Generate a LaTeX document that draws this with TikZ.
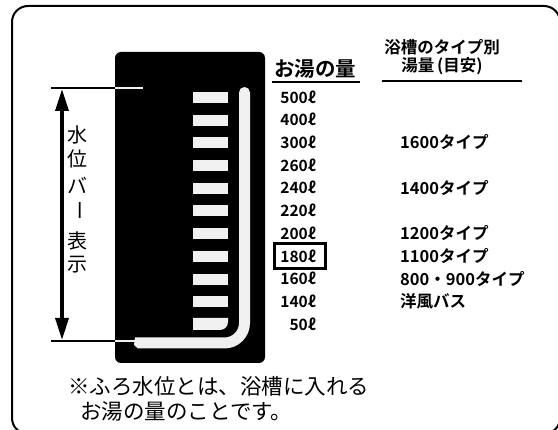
\documentclass[tikz,border=0pt]{standalone}
\usepackage{fontspec}
\newfontfamily\jp{Noto Sans CJK JP}[BoldFont={Noto Sans CJK JP Bold}]
\usetikzlibrary{arrows.meta}
\definecolor{barc}{HTML}{F0F0F0}
\tikzset{
  vol/.style={anchor=east,inner sep=0pt,font=\jp\bfseries\fontsize{15.5}{15.5}\selectfont},
  typ/.style={anchor=west,inner sep=0pt,font=\jp\bfseries\fontsize{16.5}{16.5}\selectfont},
  vchar/.style={inner sep=0pt,font=\jp\fontsize{20}{20}\selectfont},
  note/.style={anchor=west,inner sep=0pt,font=\jp\fontsize{21.5}{21.5}\selectfont},
  hdr/.style={inner sep=0pt,font=\jp\bfseries\fontsize{16.5}{16.5}\selectfont},
}
\begin{document}
\begin{tikzpicture}[x=1pt,y=-1pt]
\useasboundingbox (0,0) rectangle (558,430);
% frame
\draw[line width=2pt,rounded corners=16pt] (12,6) rectangle (560,434);
% black panel
\fill[black,rounded corners=6pt] (115,52) rectangle (265,363);
% bars
\foreach \i in {0,...,9} \fill[barc] (193,{92+22.7*\i}) rectangle (228,{103+22.7*\i});
\fill[barc] (193,318) -- (228,318) -- (228,322) .. controls (228,326.4) and (224.4,330) .. (220,330) -- (193,330) -- cycle;
% L bar
\fill[barc] (250,92.5) -- (250,323) .. controls (250,337.1) and (238.6,348.5) .. (224.5,348.5)
  -- (138,348.5) -- (134,345) -- (135,337.5) -- (224.5,337.5)
  .. controls (232.5,337.5) and (239,331) .. (239,323) -- (239,92.5) -- cycle;
\fill[barc] (244.5,92.5) circle (5.5);
% level lines
\coordinate (tL) at (51,88); \coordinate (tM) at (115,88); \coordinate (tR) at (143,88);
\coordinate (bL) at (51,341); \coordinate (bM) at (115,341); \coordinate (bR) at (136,341);
\draw[line width=2pt] (tL) -- (tM);
\draw[line width=2pt,barc] (tM) -- (tR);
\draw[line width=2pt] (bL) -- (bM);
\draw[line width=2pt,barc] (bM) -- (bR);
% arrow
\coordinate (aT) at (62,89); \coordinate (aB) at (62,340);
\draw[line width=3.5pt,{Triangle[length=22pt,width=13pt]}-{Triangle[length=22pt,width=13pt]}] (aT) -- (aB);
% vertical label
\node[vchar] (v1) at (77,135) {水};
\node[vchar] (v2) at (77,159) {位};
\node[vchar] (v3) at (77,185) {バ};
\node[vchar,rotate=-90] (v4) at (77,211) {ー};
\node[vchar] (v5) at (77,241) {表};
\node[vchar] (v6) at (77,265) {示};
% headers
\node[inner sep=0pt,font=\jp\bfseries\fontsize{20.5}{20.5}\selectfont] (h1) at (315,69) {お湯の量};
\draw[line width=2pt] (272,82) -- (360,82);
\node[hdr] (h2) at (442,47.5) {浴槽のタイプ別};
\node[hdr] (h3) at (442,66) {湯量\,(目安)};
\draw[line width=2.5pt] (382,81) -- (522,81);
% volumes
\foreach \v [count=\i from 0] in {500,400,300,260,240,220,200,180,160,140,50}
  \node[vol] (vol\v) at (316,{97+22.7*\i}) {\v ℓ};
\draw[line width=3pt] (274,244) rectangle (325,269);
% types
\node[typ] (t1) at (400,{97+22.7*2}) {1600タイプ};
\node[typ] (t2) at (400,{97+22.7*4}) {1400タイプ};
\node[typ] (t3) at (400,{97+22.7*6}) {1200タイプ};
\node[typ] (t4) at (400,{97+22.7*7}) {1100タイプ};
\node[typ] (t5) at (400,{97+22.7*8}) {800・900タイプ};
\node[typ] (t6) at (400,{97+22.7*9}) {洋風バス};
% note
\node[note] (n1) at (68,386) {※ふろ水位とは、浴槽に入れる};
\node[note] (n2) at (80,411) {お湯の量のことです。};
\end{tikzpicture}
\end{document}
